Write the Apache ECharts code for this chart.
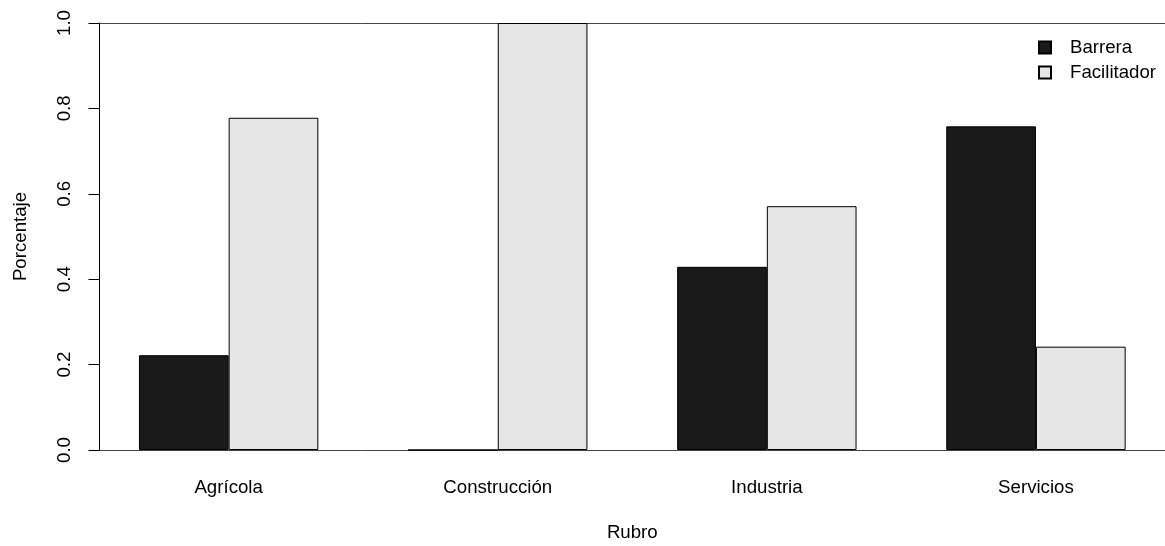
<!DOCTYPE html>
<html>
<head>
<meta charset="utf-8">
<script src="https://cdn.jsdelivr.net/npm/echarts@6/dist/echarts.min.js"></script>
<style>
  html, body { margin: 0; padding: 0; background: #fff; }
  #chart { width: 1165px; height: 546px; }
</style>
</head>
<body>
<div id="chart"></div>
<script>
// Share of firms reporting each factor as a barrier or a facilitator, by sector
const rubros = ['Agrícola', 'Construcción', 'Industria', 'Servicios'];
const barrera = [0.222, 0.0, 0.429, 0.758];
const facilitador = [0.778, 1.0, 0.571, 0.242];
const yTicks = [0, 0.2, 0.4, 0.6, 0.8, 1.0];

const FONT = '"Liberation Sans", Arial, sans-serif';
const FS = 18.67;
const chart = echarts.init(document.getElementById('chart'), null, { renderer: 'canvas' });

chart.setOption({
  animation: false,
  backgroundColor: '#ffffff',
  textStyle: { fontFamily: FONT, color: '#000' },
  grid: {
    left: 94.1, top: 23, width: 1076.4, bottom: 96,
    containLabel: false,
    outerBoundsMode: 'none'
  },
  legend: {
    orient: 'vertical',
    left: 1038,
    top: 38,
    padding: 0,
    itemWidth: 12,
    itemHeight: 12,
    itemGap: 6,
    icon: 'rect',
    textStyle: { fontFamily: FONT, fontSize: FS, color: '#000', lineHeight: 18, padding: [0, 0, 0, 14] },
    data: ['Barrera', 'Facilitador']
  },
  xAxis: [
    {
      type: 'category',
      data: rubros,
      position: 'bottom',
      name: 'Rubro',
      nameLocation: 'middle',
      nameGap: 73,
      nameTextStyle: { fontFamily: FONT, fontSize: FS, color: '#000' },
      axisLine: { show: true, lineStyle: { color: '#444', width: 1 } },
      axisTick: { show: false },
      axisLabel: { fontFamily: FONT, fontSize: FS, color: '#000', margin: 28 },
      splitLine: { show: false }
    },
    {
      // reference line along the top of the plot (value 1)
      type: 'category',
      data: rubros,
      position: 'top',
      axisLine: { show: true, lineStyle: { color: '#444', width: 1 } },
      axisTick: { show: false },
      axisLabel: { show: false },
      splitLine: { show: false }
    }
  ],
  yAxis: {
    type: 'value',
    min: 0,
    max: 1,
    interval: 0.2,
    offset: -5.4,
    name: 'Porcentaje',
    nameLocation: 'middle',
    nameGap: 69,
    nameTextStyle: { fontFamily: FONT, fontSize: FS, color: '#000' },
    axisLine: { show: true, lineStyle: { color: '#000', width: 1 } },
    axisTick: { show: true, length: 11, lineStyle: { color: '#000', width: 1 } },
    axisLabel: {
      rotate: 90,
      margin: 25,
      fontFamily: FONT,
      fontSize: FS,
      color: '#000',
      formatter: v => yTicks.includes(+v.toFixed(1)) ? v.toFixed(1) : ''
    },
    splitLine: { show: false }
  },
  series: [
    {
      name: 'Barrera',
      type: 'bar',
      data: barrera,
      barWidth: '33.33%',
      barGap: '0%',
      itemStyle: { color: '#1a1a1a', borderColor: '#000', borderWidth: 1 }
    },
    {
      name: 'Facilitador',
      type: 'bar',
      data: facilitador,
      barWidth: '33.33%',
      barGap: '0%',
      itemStyle: { color: '#e6e6e6', borderColor: '#000', borderWidth: 1 }
    }
  ]
});
</script>
</body>
</html>
